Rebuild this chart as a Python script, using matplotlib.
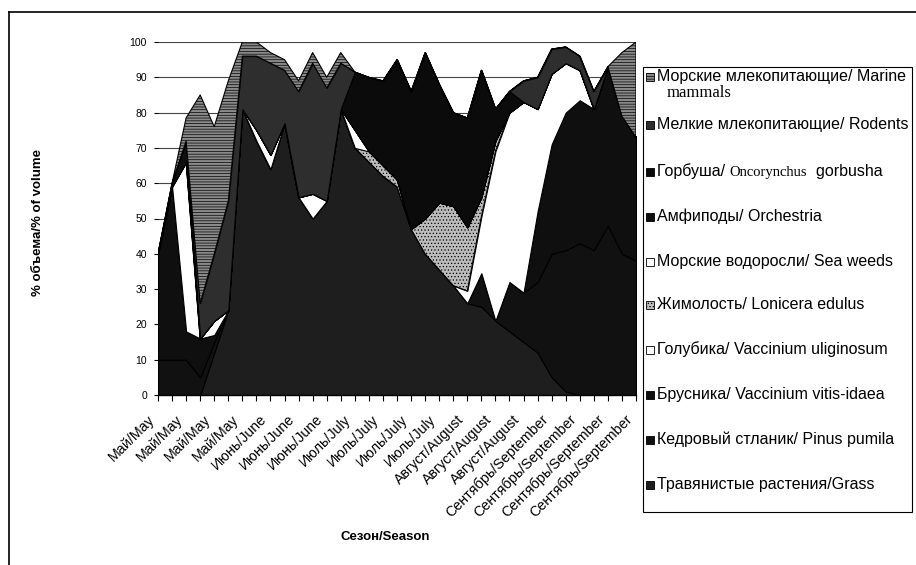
#!/usr/bin/env python3

import matplotlib
import matplotlib.pyplot as plt
from matplotlib.lines import Line2D
from matplotlib.patches import Rectangle
from matplotlib.transforms import ScaledTranslation

matplotlib.use("Agg")  # Use non-interactive backend

plt.rcParams["font.family"] = ["Liberation Sans", "DejaVu Sans"]
plt.rcParams["hatch.linewidth"] = 0.5

W, H = 916, 565  # figure size, pixels

# one label under every second sample
period_labels = [
    "Май/May", "Май/May", "Май/May", "Май/May",
    "Июнь/June", "Июнь/June", "Июнь/June",
    "Июль/July", "Июль/July", "Июль/July", "Июль/July",
    "Август/August", "Август/August", "Август/August",
    "Сентябрь/September", "Сентябрь/September",
    "Сентябрь/September", "Сентябрь/September",
]

# % of volume per sample, bottom of the stack first
grass = [0, 0, 0, 0, 12, 24, 81, 72, 64, 77, 56, 50, 55, 81, 70, 66, 62, 59,
         47, 40, 35.5, 31, 26, 25, 21, 18, 15, 12, 5, 1, 0, 0, 0, 0, 0]
pinus_pumila = [10, 10, 10, 5, 3, 0, 0, 0, 0, 0, 0, 0, 0, 0, 0, 0, 0, 0,
                0, 0, 0, 0, 0, 9.5, 0, 14, 14, 20, 35, 40, 43, 41, 48, 40, 38]
vitis_idaea = [30, 49, 8, 11, 2, 0, 0, 0, 0, 0, 0, 0, 0, 0, 0, 0, 0, 0,
               0, 0, 0, 0, 0, 0, 0, 0, 0, 20, 31, 39, 40.5, 40, 45, 39, 35]
uliginosum = [0, 0, 48, 0, 4, 0, 0, 0, 0, 0, 0, 0, 0, 0, 0, 0, 0, 0,
              0, 0, 0, 0, 3.5, 16, 48, 48, 54, 29, 20, 14, 8.5, 0, 0, 0, 0]
lonicera = [0, 0, 0, 0, 0, 0, 0, 0, 0, 0, 0, 0, 0, 0, 0, 3, 3, 2,
            0, 10, 19, 22.5, 18, 5.5, 3, 0, 0, 0, 0, 0, 0, 0, 0, 0, 0]
seaweeds = [0, 0, 0, 0, 0, 0, 0, 3, 4, 0, 0, 7, 0, 0, 5, 0, 0, 0,
            0, 0, 0, 0, 0, 0, 0, 0, 0, 0, 0, 0, 0, 0, 0, 0, 0]
amphipods = [0, 1, 6, 0, 0, 0, 0, 0, 0, 0, 0, 0, 0, 0, 0, 0, 0, 0,
             0, 0, 0, 0, 0, 0, 0, 0, 0, 0, 0, 0, 0, 0, 0, 0, 0]
gorbusha = [0, 0, 0, 0, 0, 0, 0, 0, 0, 0, 0, 0, 0, 0, 16.5, 21, 24, 34,
            39, 47, 33.5, 26.5, 31, 36, 9, 6, 0, 0, 0, 0, 0, 0, 0, 0, 0]
rodents = [0, 0, 0, 10, 19, 31, 15, 21, 26, 15, 30, 37, 32, 13, 0, 0, 0, 0,
           0, 0, 0, 0, 0, 0, 0, 0, 6, 9, 7, 4.6, 4, 5, 0, 0, 0]
marine_mammals = [0, 0, 6.5, 59, 36, 34, 4, 4, 3, 3, 3, 3, 3, 3, 0, 0, 0, 0,
                  0, 0, 0, 0, 0, 0, 0, 0, 0, 0, 0, 0, 0, 0, 0, 18, 27]

fills = ["#1e1e1e", "#111111", "#0f0f0f", "white", "#bcbcbc",
         "white", "#101010", "#0b0b0b", "#2e2e2e", "#8a8a8a"]
hatches = [None, None, None, None, ".....", None, None, None, None, "------"]

# legend rows, top of the stack first; a list means mixed sans/serif pieces
legend_labels = [
    "Морские млекопитающие/ Marine",
    "Мелкие млекопитающие/ Rodents",
    [("Горбуша/ ", "sans"), ("Oncorynchus", "serif"), ("  gorbusha", "sans")],
    "Амфиподы/ Orchestria",
    "Морские водоросли/ Sea weeds",
    "Жимолость/ Lonicera edulus",
    "Голубика/ Vaccinium uliginosum",
    "Брусника/ Vaccinium vitis-idaea",
    "Кедровый стланик/ Pinus pumila",
    "Травянистые растения/Grass",
]
legend_row_y = [77, 125, 172, 217, 262, 305, 350, 395, 440, 485]


def fig_xy(px, py):
    """Pixel position (from top left) to figure fraction."""
    return px / W, 1 - py / H


def draw_areas(ax):
    series = [grass, pinus_pumila, vitis_idaea, uliginosum, lonicera,
              seaweeds, amphipods, gorbusha, rodents, marine_mammals]
    x = list(range(len(grass)))
    polys = ax.stackplot(x, *series, colors=fills, edgecolor="black",
                         linewidth=0.8)
    for poly, hatch in zip(polys, hatches):
        if hatch:
            poly.set_hatch(hatch)

    ax.set_xlim(0, len(grass) - 1)
    ax.set_ylim(0, 100)
    ax.set_yticks(range(0, 101, 10))
    ax.yaxis.grid(True, color="#444444", linewidth=0.8)
    ax.set_axisbelow(True)
    for side in ("top", "right", "left"):
        ax.spines[side].set_visible(False)
    ax.spines["bottom"].set_linewidth(1.0)

    ax.set_xticks(x)
    tick_text = [period_labels[i // 2] if i % 2 == 0 else "" for i in x]
    ax.set_xticklabels(tick_text, rotation=45, ha="right", va="center",
                       rotation_mode="anchor", fontsize=10.3)
    ax.tick_params(axis="x", length=4, width=0.8, pad=12)
    ax.tick_params(axis="y", length=3, width=0.8, pad=5, labelsize=7.5)
    shift = ScaledTranslation(-6 / 100, 0, ax.figure.dpi_scale_trans)
    for lbl in ax.get_xticklabels():
        lbl.set_transform(lbl.get_transform() + shift)


def draw_legend(fig):
    x0, y0 = fig_xy(643, 512)
    x1, y1 = fig_xy(912, 67)
    fig.add_artist(Rectangle((x0, y0), x1 - x0, y1 - y0, transform=fig.transFigure,
                             facecolor="white", edgecolor="black", linewidth=0.8))

    renderer = fig.canvas.get_renderer()
    order = list(range(len(fills)))[::-1]
    for idx, y, label in zip(order, legend_row_y, legend_labels):
        mx, my = fig_xy(646, y + 4)
        fig.add_artist(Rectangle((mx, my), 8 / W, 8 / H, transform=fig.transFigure,
                                 facecolor=fills[idx], edgecolor="black",
                                 linewidth=0.6, hatch=hatches[idx]))
        pieces = [(label, "sans")] if isinstance(label, str) else label
        px = 657
        for text, style in pieces:
            kw = {"family": "Liberation Serif", "fontsize": 10.5} if style == "serif" \
                else {"fontsize": 11.5}
            t = fig.text(*fig_xy(px, y + 4), text, va="baseline", ha="left", **kw)
            px += t.get_window_extent(renderer).width

    fig.text(*fig_xy(667, 97), "mammals", family="Liberation Serif", fontsize=12,
             va="baseline", ha="left")


def main():
    fig = plt.figure(figsize=(W / 100, H / 100), dpi=100)
    left, bottom = fig_xy(158, 395)
    right, top = fig_xy(636, 42)
    ax = fig.add_axes([left, bottom, right - left, top - bottom])
    draw_areas(ax)

    fig.text(*fig_xy(38, 222), "% объема/% of volume", rotation=90,
             fontsize=9.5, fontweight="bold", ha="center", va="center")
    fig.text(*fig_xy(385, 537), "Сезон/Season", fontsize=9.5,
             fontweight="bold", ha="center", va="center")

    draw_legend(fig)

    # outer frame of the chart
    fig.add_artist(Line2D([9 / W, 9 / W], [0, 1 - 12 / H], color="black",
                          linewidth=1.2, transform=fig.transFigure))
    fig.add_artist(Line2D([9 / W, 1], [1 - 12 / H, 1 - 12 / H], color="black",
                          linewidth=1.2, transform=fig.transFigure))

    fig.savefig("out.png", dpi=100)
    plt.close(fig)


if __name__ == "__main__":
    main()
